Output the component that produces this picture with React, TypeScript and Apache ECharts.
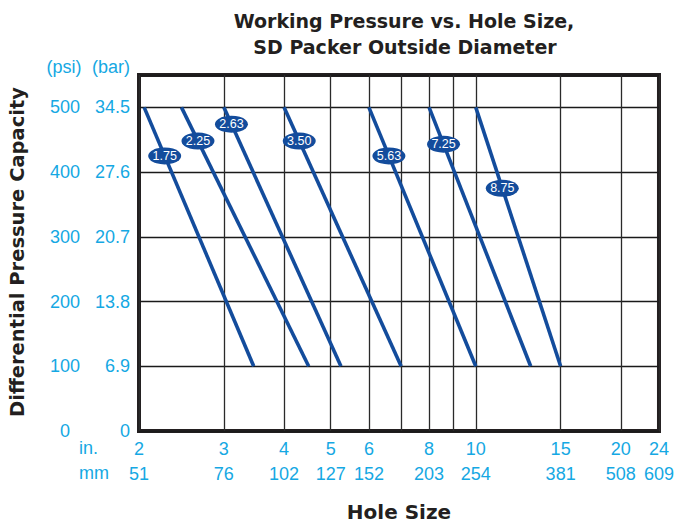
import React, { useEffect, useRef } from "react";
import * as echarts from "echarts";

// Packer outside diameters (in.)
const packerSizes = ["1.75", "2.25", "2.63", "3.50", "5.63", "7.25", "8.75"];
// Hole size (in.) at 500 psi and at 100 psi for each packer line
const holeAtMaxPressure = [2.05, 2.45, 3, 4, 6, 8, 10];
const holeAtMinPressure = [3.46, 4.5, 5.25, 7, 10, 13, 15];
const maxPressure = 500;
const minPressure = 100;
// Pressure (psi) at which each size label sits on its line
const labelPressure = [425, 448, 474, 448, 425, 443, 375];

// Axis ticks
const inchTicks = [2, 3, 4, 5, 6, 8, 10, 15, 20, 24];
const mmLabels = ["51", "76", "102", "127", "152", "203", "254", "381", "508", "609"];
const gridInches = [2, 3, 4, 5, 6, 7, 8, 9, 10, 15, 20, 24];
const psiTicks = [0, 100, 200, 300, 400, 500];
const psiLabels = ["0", "100", "200", "300", "400", "500"];
const barLabels = ["0", "6.9", "13.8", "20.7", "27.6", "34.5"];

const CYAN = "#15a8e3";
const BLUE = "#134c9c";
const DARK = "#231f20";
const TICK_FONT = "'Liberation Sans', Arial, sans-serif";
const TITLE_FONT = "'DejaVu Sans', sans-serif";
const TICK_SIZE = 18;

function findIndex(list: number[], v: number) {
  for (let i = 0; i < list.length; i++) {
    if (Math.abs(list[i] - v) < 1e-6 * Math.max(1, list[i])) return i;
  }
  return -1;
}

function labelX(i: number) {
  const a = Math.log10(holeAtMaxPressure[i]);
  const b = Math.log10(holeAtMinPressure[i]);
  const t = (maxPressure - labelPressure[i]) / (maxPressure - minPressure);
  return Math.pow(10, a + (b - a) * t);
}

export default function App() {
  const ref = useRef<HTMLDivElement>(null);
  useEffect(() => {
    if (!ref.current) return;
    const chart = echarts.init(ref.current, undefined, { renderer: "svg" });

    const series = packerSizes.map((s, i) => ({
      type: "line",
      xAxisIndex: 0,
      yAxisIndex: 0,
      data: [
        [holeAtMaxPressure[i], maxPressure],
        [holeAtMinPressure[i], minPressure],
      ],
      symbol: "none",
      silent: true,
      lineStyle: { color: BLUE, width: 3.6, cap: "butt" },
      markPoint: {
        silent: true,
        z: 20,
        symbol: "circle",
        symbolSize: [33, 17],
        itemStyle: { color: BLUE },
        label: {
          show: true,
          position: "inside",
          color: "#ffffff",
          fontSize: 12.5,
          fontFamily: TICK_FONT,
          formatter: s,
        },
        data: [{ coord: [labelX(i), labelPressure[i]], value: s }],
      },
    }));

    const tickLabel = {
      color: CYAN,
      fontSize: TICK_SIZE,
      fontFamily: TICK_FONT,
      hideOverlap: false,
    };

    const option: any = {
      animation: false,
      grid: {
        left: 139,
        right: 14,
        top: 75,
        bottom: 92,
        show: true,
        borderColor: DARK,
        borderWidth: 4,
        backgroundColor: "transparent",
        containLabel: false,
      },
      xAxis: [
        {
          type: "log",
          logBase: 10,
          min: 2,
          max: 24,
          position: "bottom",
          axisLine: { show: false },
          axisTick: { show: false, customValues: gridInches },
          splitLine: { show: true, lineStyle: { color: "#2a2a2a", width: 1.3 } },
          axisLabel: {
            ...tickLabel,
            customValues: inchTicks,
            margin: 9,
            formatter: (v: number) => {
              const k = findIndex(inchTicks, v);
              return k >= 0 ? String(inchTicks[k]) : "";
            },
          },
        },
        {
          type: "log",
          logBase: 10,
          min: 2,
          max: 24,
          position: "bottom",
          offset: 25,
          axisLine: { show: false },
          axisTick: { show: false },
          splitLine: { show: false },
          axisLabel: {
            ...tickLabel,
            customValues: inchTicks,
            margin: 9,
            formatter: (v: number) => {
              const k = findIndex(inchTicks, v);
              return k >= 0 ? mmLabels[k] : "";
            },
          },
        },
      ],
      yAxis: [
        {
          type: "value",
          min: 0,
          max: 550,
          interval: 100,
          position: "left",
          axisLine: { show: false },
          axisTick: { show: false },
          splitLine: { show: true, lineStyle: { color: "#1a1a1a", width: 1.3 } },
          axisLabel: {
            ...tickLabel,
            customValues: psiTicks,
            margin: 9,
            align: "right",
            formatter: (v: number) => {
              const k = findIndex(psiTicks, v);
              return k >= 0 ? barLabels[k] : "";
            },
          },
        },
        {
          type: "value",
          min: 0,
          max: 550,
          interval: 100,
          position: "left",
          offset: 74,
          axisLine: { show: false },
          axisTick: { show: false },
          splitLine: { show: false },
          axisLabel: {
            ...tickLabel,
            customValues: psiTicks,
            margin: 0,
            align: "center",
            formatter: (v: number) => {
              const k = findIndex(psiTicks, v);
              return k >= 0 ? psiLabels[k] : "";
            },
          },
        },
      ],
      graphic: [
        {
          type: "text",
          x: 404,
          y: 20.5,
          style: {
            text: "Working Pressure vs. Hole Size,",
            fill: DARK,
            font: `bold 19px ${TITLE_FONT}`,
            textAlign: "center",
            textVerticalAlign: "middle",
          },
        },
        {
          type: "text",
          x: 405,
          y: 46.5,
          style: {
            text: "SD Packer Outside Diameter",
            fill: DARK,
            font: `bold 19px ${TITLE_FONT}`,
            textAlign: "center",
            textVerticalAlign: "middle",
          },
        },
        {
          type: "text",
          x: 17,
          y: 252,
          rotation: Math.PI / 2,
          style: {
            text: "Differential Pressure Capacity",
            fill: DARK,
            font: `bold 19.5px ${TITLE_FONT}`,
            textAlign: "center",
            textVerticalAlign: "middle",
          },
        },
        {
          type: "text",
          x: 399,
          y: 512,
          style: {
            text: "Hole Size",
            fill: DARK,
            font: `bold 20px ${TITLE_FONT}`,
            textAlign: "center",
            textVerticalAlign: "middle",
          },
        },
        {
          type: "text",
          x: 64,
          y: 67,
          style: {
            text: "(psi)",
            fill: CYAN,
            font: `${TICK_SIZE}px ${TICK_FONT}`,
            textAlign: "center",
            textVerticalAlign: "middle",
          },
        },
        {
          type: "text",
          x: 130,
          y: 67,
          style: {
            text: "(bar)",
            fill: CYAN,
            font: `${TICK_SIZE}px ${TICK_FONT}`,
            textAlign: "right",
            textVerticalAlign: "middle",
          },
        },
        {
          type: "text",
          x: 79,
          y: 448,
          style: {
            text: "in.",
            fill: CYAN,
            font: `${TICK_SIZE}px ${TICK_FONT}`,
            textAlign: "left",
            textVerticalAlign: "middle",
          },
        },
        {
          type: "text",
          x: 79,
          y: 473,
          style: {
            text: "mm",
            fill: CYAN,
            font: `${TICK_SIZE}px ${TICK_FONT}`,
            textAlign: "left",
            textVerticalAlign: "middle",
          },
        },
      ],
      series,
    };

    chart.setOption(option);
    return () => chart.dispose();
  }, []);

  return (
    <div
      ref={ref}
      style={{ position: "absolute", left: 0, top: 0, width: 677, height: 523 }}
    />
  );
}
